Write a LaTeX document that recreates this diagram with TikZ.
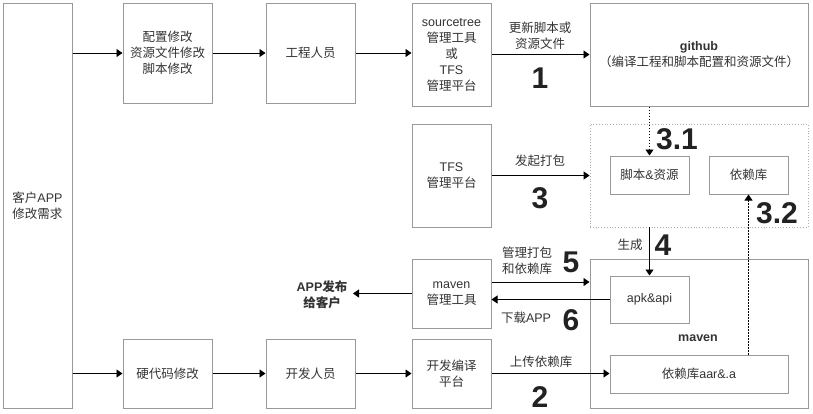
\documentclass[tikz,border=0pt]{standalone}
\usepackage{fontspec}
\setmainfont{Noto Sans CJK SC}
\newfontfamily\enfont{Liberation Sans}
\usetikzlibrary{arrows.meta}
\newcommand\EN[1]{{\enfont #1}}
\definecolor{boxgray}{HTML}{999999}
\definecolor{txt}{HTML}{333333}
\definecolor{numc}{HTML}{222222}
\definecolor{dotgray}{HTML}{AAAAAA}
\begin{document}
\begin{tikzpicture}[x=1pt,y=-1pt,
 box/.style={draw=boxgray, line width=1pt, rectangle, inner sep=0pt, text=txt, align=center, font=\fontsize{12.5}{16}\selectfont},
 arr/.style={-{Triangle[length=6pt,width=8pt]}, line width=0.9pt, black},
 darr/.style={arr, dash pattern=on 1.5pt off 1.5pt},
 lbl/.style={text=txt, align=center, font=\fontsize{12.5}{16}\selectfont, inner sep=0pt},
 num/.style={text=numc, font=\enfont\bfseries\fontsize{30}{30}\selectfont, inner sep=0pt}
]
\useasboundingbox (0,0) rectangle (813,413);
% boxes
\node[box, minimum width=69pt, minimum height=405pt] (cust) at (37.5,205.5) {客户\EN{APP}\\修改需求};
\node[box, minimum width=89pt, minimum height=100pt] (cfg) at (167.5,53) {配置修改\\资源文件修改\\脚本修改};
\node[box, minimum width=89pt, minimum height=100pt] (eng) at (310.5,53) {工程人员};
\node[box, minimum width=79pt, minimum height=103pt] (src) at (451.5,54.5) {\EN{sourcetree}\\管理工具\\或\\\EN{TFS}\\管理平台};
\node[box, minimum width=218pt, minimum height=103pt] (gh) at (699,54.5) {\EN{\textbf{github}}\\（编译工程和脚本配置和资源文件）};
\node[box, minimum width=79pt, minimum height=103pt] (tfs) at (451.5,175.5) {\EN{TFS}\\管理平台};
\node[draw=dotgray, dotted, line width=0.8pt, rectangle, inner sep=0pt, minimum width=218pt, minimum height=103pt] (cont) at (699,175.5) {};
\node[box, minimum width=79pt, minimum height=38pt] (jb) at (649.5,175) {脚本\EN{\&}资源};
\node[box, minimum width=79pt, minimum height=38pt] (yl) at (748.5,175) {依赖库};
\node[box, minimum width=79pt, minimum height=69pt] (mvt) at (451.5,293.5) {\EN{maven}\\管理工具};
\node[box, minimum width=218pt, minimum height=149pt] (mvc) at (699,333.5) {};
\node[lbl, font=\enfont\bfseries\fontsize{12.5}{16}\selectfont] (mvlabel) at (698,338) {maven};
\node[box, minimum width=79pt, minimum height=47pt] (apk) at (649.5,299.5) {\EN{apk\&api}};
\node[box, minimum width=178pt, minimum height=38pt] (aar) at (699,374) {依赖库\EN{aar\&.a}};
\node[box, minimum width=89pt, minimum height=69pt] (hard) at (167.5,373.5) {硬代码修改};
\node[box, minimum width=89pt, minimum height=69pt] (dev) at (310.5,373.5) {开发人员};
\node[box, minimum width=79pt, minimum height=69pt] (plat) at (451.5,373.5) {开发编译\\平台};
\node[lbl, font=\bfseries\fontsize{12.5}{16}\selectfont] (pub) at (322,295) {\EN{APP}发布\\给客户};
\coordinate (pubtip) at (353,293.5);
% arrows
\draw[arr] (cust.east |- cfg.west) -- (cfg.west);
\draw[arr] (cfg.east) -- (eng.west);
\draw[arr] (eng.east) -- (eng.east -| src.west);
\draw[arr] (src.east) -- (src.east -| gh.west);
\draw[arr] (tfs.east) -- (tfs.east -| cont.west);
\draw[darr] (gh.south -| jb.north) -- (jb.north);
\draw[darr] (aar.north -| yl.south) -- (yl.south);
\draw[arr] (cont.south -| apk.north) -- (apk.north);
\draw[arr] ([yshift=11.5pt]mvt.east) -- ([yshift=11.5pt]mvt.east -| mvc.west);
\draw[arr] (apk.west) -- (apk.west -| mvt.east);
\draw[arr] (mvt.west) -- (pubtip);
\draw[arr] (cust.east |- hard.west) -- (hard.west);
\draw[arr] (hard.east) -- (dev.west);
\draw[arr] (dev.east) -- (plat.west);
\draw[arr] (plat.east) -- (plat.east -| aar.west);
% labels
\node[lbl] (l1) at (540,35.5) {更新脚本或\\资源文件};
\node[num] (n1) at (540,78) {1};
\node[lbl] (l3) at (540,161) {发起打包};
\node[num] (n3) at (540,198) {3};
\node[num] (n31) at (677,139) {3.1};
\node[num] (n32) at (777,213) {3.2};
\node[lbl] (l4) at (630,245) {生成};
\node[num] (n4) at (663,245) {4};
\node[lbl] (l5) at (527,261) {管理打包\\和依赖库};
\node[num] (n5) at (571,262) {5};
\node[lbl] (l6) at (526,318) {下载\EN{APP}};
\node[num] (n6) at (571,320) {6};
\node[lbl] (l2) at (541,362) {上传依赖库};
\node[num] (n2) at (540,397) {2};
\end{tikzpicture}
\end{document}
